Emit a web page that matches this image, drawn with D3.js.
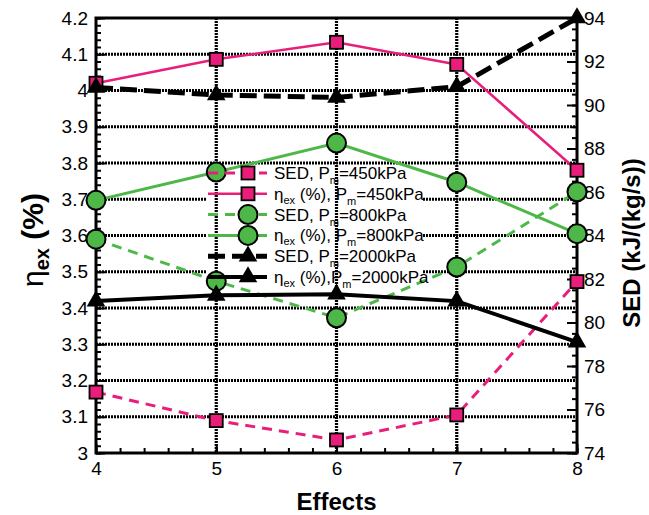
<!DOCTYPE html>
<html>
<head>
<meta charset="utf-8">
<script src="https://cdn.jsdelivr.net/npm/d3@7"></script>
<style>
  body { margin: 0; background: #fff; }
  svg { font-family: "Liberation Sans", Arial, sans-serif; }
</style>
</head>
<body>
<div id="chart"></div>
<script>
const width = 649;
const height = 515;

// Data
const effects = [4, 5, 6, 7, 8];
const sed450 = [76.8, 75.49, 74.6, 75.75, 81.88];
const eta450 = [4.02, 4.086, 4.133, 4.072, 3.78];
const sed800 = [83.83, 81.9, 80.22, 82.55, 86.01];
const eta800 = [3.697, 3.775, 3.855, 3.747, 3.605];
const sed2000 = [90.81, 90.46, 90.35, 90.84, 94.0];
const eta2000 = [3.419, 3.435, 3.438, 3.419, 3.306];

const xTicks = [4, 5, 6, 7, 8];
const leftTicks = [3, 3.1, 3.2, 3.3, 3.4, 3.5, 3.6, 3.7, 3.8, 3.9, 4, 4.1, 4.2];
const rightTicks = [74, 76, 78, 80, 82, 84, 86, 88, 90, 92, 94];

const pink = '#E91E7B';
const green = '#4DB848';

const x = d3.scaleLinear().domain([4, 8]).range([96, 577]);
const yL = d3.scaleLinear().domain([3, 4.2]).range([453, 18]);
const yR = d3.scaleLinear().domain([74, 94]).range([453, 18]);

const svg = d3.select('#chart').append('svg')
  .attr('width', width)
  .attr('height', height);

svg.append('rect').attr('width', width).attr('height', height).attr('fill', '#fff');

// horizontal grid
svg.append('g')
  .selectAll('line')
  .data(leftTicks.slice(1, -1))
  .enter().append('line')
  .attr('x1', x(4)).attr('x2', x(8))
  .attr('y1', d => yL(d)).attr('y2', d => yL(d))
  .attr('stroke', '#000')
  .attr('stroke-width', 3.2)
  .attr('stroke-dasharray', '2,1');

// legend background box
const legX = 207, legY = 173, legStep = 20.8;
svg.append('rect')
  .attr('x', legX).attr('y', 165)
  .attr('width', 216).attr('height', 121)
  .attr('fill', '#fff');

// vertical grid
svg.append('g')
  .selectAll('line')
  .data(xTicks.slice(1, -1))
  .enter().append('line')
  .attr('x1', d => x(d)).attr('x2', d => x(d))
  .attr('y1', yL(4.2)).attr('y2', yL(3))
  .attr('stroke', '#000')
  .attr('stroke-width', 3.2)
  .attr('stroke-dasharray', '2,1');

// axes ticks
const fmt = d => String(+d.toFixed(1));

const left = svg.append('g').attr('transform', `translate(${x(4)},0)`);
left.call(d3.axisLeft(yL).tickValues(d3.range(3, 4.2001, 0.02)).tickSize(-5).tickFormat(''));
left.call(g => g.append('g').call(d3.axisLeft(yL).tickValues(leftTicks).tickSize(-9).tickPadding(8).tickFormat(fmt)));

const right = svg.append('g').attr('transform', `translate(${x(8)},0)`);
right.call(d3.axisRight(yR).tickValues(d3.range(74, 94.01, 0.5)).tickSize(-5).tickFormat(''));
right.call(g => g.append('g').call(d3.axisRight(yR).tickValues(rightTicks).tickSize(-10).tickPadding(7)));

const bottom = svg.append('g').attr('transform', `translate(0,${yL(3)})`);
bottom.call(d3.axisBottom(x).tickValues(d3.range(4, 8.001, 0.2)).tickSize(-5).tickFormat(''));
bottom.call(g => g.append('g').call(d3.axisBottom(x).tickValues(xTicks).tickSize(-9).tickPadding(9).tickFormat(d3.format('d'))));

svg.selectAll('.domain').remove();
svg.selectAll('.tick line').attr('stroke', '#000').attr('stroke-width', 2);
svg.selectAll('.tick text')
  .attr('fill', '#000')
  .style('font-size', '19px')
  .style('font-family', '"Liberation Sans", Arial, sans-serif');

// frame
svg.append('rect')
  .attr('x', x(4)).attr('y', yL(4.2))
  .attr('width', x(8) - x(4)).attr('height', yL(3) - yL(4.2))
  .attr('fill', 'none')
  .attr('stroke', '#000')
  .attr('stroke-width', 3);

// series table
const series = [
  { name: 'SED', pm: '450', values: sed450, y: yR, color: pink, dash: '10,7', lw: 3, sym: 'square' },
  { name: 'eta', pm: '450', values: eta450, y: yL, color: pink, dash: null, lw: 2.5, sym: 'square' },
  { name: 'SED', pm: '800', values: sed800, y: yR, color: green, dash: '10,7', lw: 3, sym: 'circle' },
  { name: 'eta', pm: '800', values: eta800, y: yL, color: green, dash: null, lw: 3, sym: 'circle' },
  { name: 'SED', pm: '2000', values: sed2000, y: yR, color: '#000', dash: '17,7', lw: 5, sym: 'triangle' },
  { name: 'eta', pm: '2000', values: eta2000, y: yL, color: '#000', dash: null, lw: 4, sym: 'triangle' }
];

function drawMarker(g, s, cx, cy) {
  if (s.sym === 'square') {
    g.append('rect')
      .attr('x', cx - 6.5).attr('y', cy - 6.5)
      .attr('width', 13).attr('height', 13)
      .attr('fill', pink).attr('stroke', '#000').attr('stroke-width', 1.8);
  } else if (s.sym === 'circle') {
    g.append('circle')
      .attr('cx', cx).attr('cy', cy).attr('r', 9.5)
      .attr('fill', green).attr('stroke', '#000').attr('stroke-width', 2);
  } else {
    g.append('path')
      .attr('transform', `translate(${cx},${cy})`)
      .attr('d', d3.symbol().type(d3.symbolTriangle).size(150)())
      .attr('fill', '#000');
  }
}

const line = d3.line();
series.forEach(s => {
  const g = svg.append('g');
  const pts = effects.map((e, i) => [x(e), s.y(s.values[i])]);
  g.append('path')
    .attr('d', line(pts))
    .attr('fill', 'none')
    .attr('stroke', s.color)
    .attr('stroke-width', s.lw)
    .attr('stroke-dasharray', s.dash);
  pts.forEach(p => drawMarker(g, s, p[0], p[1]));
});

// legend entries
series.forEach((s, i) => {
  const cy = legY + i * legStep;
  const g = svg.append('g');
  g.append('line')
    .attr('x1', legX + 1).attr('x2', legX + 60)
    .attr('y1', cy).attr('y2', cy)
    .attr('stroke', s.color)
    .attr('stroke-width', s.lw)
    .attr('stroke-dasharray', s.dash);
  drawMarker(g, s, legX + 41, cy);
  const t = g.append('text')
    .attr('x', legX + 67).attr('y', cy + 6)
    .style('font-size', '17px')
    .attr('fill', '#000');
  if (s.name === 'SED') {
    t.append('tspan').text('SED, P');
  } else {
    t.append('tspan').text('\u03b7');
    t.append('tspan').attr('dy', 4).style('font-size', '11px').text('ex');
    t.append('tspan').attr('dy', -4).text(i === 5 ? ' (%),P' : ' (%), P');
  }
  t.append('tspan').attr('dy', 5).style('font-size', '11px').text('m');
  t.append('tspan').attr('dy', -5).text('=' + s.pm + 'kPa');
});

// axis titles
svg.append('text')
  .attr('x', (x(4) + x(8)) / 2).attr('y', 510)
  .attr('text-anchor', 'middle')
  .style('font-size', '24px')
  .style('font-weight', 'bold')
  .text('Effects');

const lt = svg.append('text')
  .attr('transform', 'translate(43,240) rotate(-90)')
  .attr('text-anchor', 'middle')
  .style('font-size', '30px');
lt.append('tspan').text('\u03b7');
lt.append('tspan').attr('dy', 6).style('font-size', '20px').style('font-weight', 'bold').text('ex');
lt.append('tspan').attr('dy', -6).style('font-weight', 'bold').text(' (%)');

svg.append('text')
  .attr('transform', 'translate(640,243) rotate(-90)')
  .attr('text-anchor', 'middle')
  .style('font-size', '24px')
  .style('font-weight', 'bold')
  .text('SED (kJ/(kg/s))');
</script>
</body>
</html>
